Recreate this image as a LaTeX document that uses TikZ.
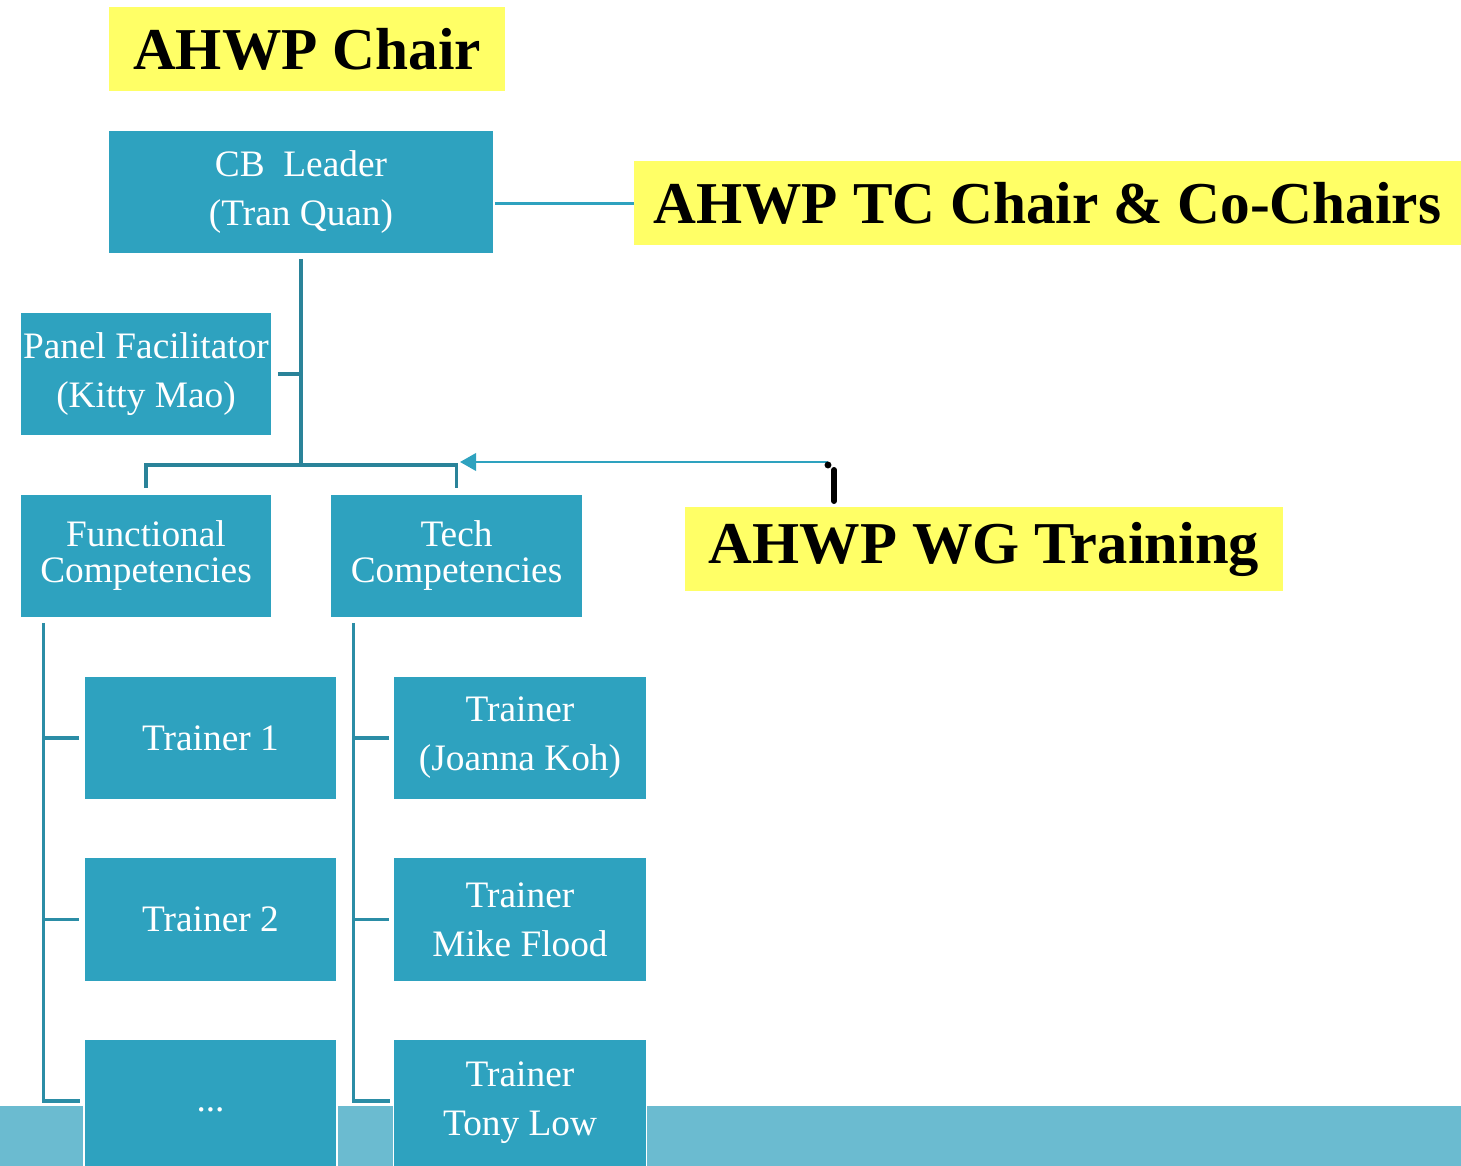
\documentclass[tikz,border=0pt]{standalone}
\usepackage{fontspec}
\setmainfont{Liberation Serif}
\usetikzlibrary{calc,arrows.meta}
\definecolor{boxc}{HTML}{2EA2BF}
\definecolor{darkln}{HTML}{2A8399}
\definecolor{spineln}{HTML}{2B8DA6}
\definecolor{bandc}{HTML}{6BBBD0}
\definecolor{hilite}{HTML}{FFFF66}
\begin{document}
\begin{tikzpicture}[x=0.75pt,y=-0.75pt,
  orgbox/.style={rectangle,fill=boxc,draw=white,line width=1.2pt,text=white,
    font=\fontsize{28}{36.75}\selectfont,align=center,inner sep=0pt,
    minimum width=189.75pt,minimum height=93pt},
  titlebox/.style={rectangle,fill=hilite,inner sep=0pt,
    font=\fontsize{44.5}{50}\selectfont\bfseries,minimum height=63pt},
  treeln/.style={draw=darkln,line width=2.5pt},
  spine/.style={draw=spineln,line width=2.5pt},
  lightln/.style={draw=boxc,line width=1.8pt}]
\useasboundingbox (0,0) rectangle (1461,1166);
% band at bottom
\fill[bandc] (0,1106) rectangle (1461,1166);
% title boxes
\node[titlebox,minimum width=297pt] (chair) at (307,49) {AHWP Chair};
\node[titlebox,minimum width=620.25pt] (tc) at (1047.5,203.5) {AHWP TC Chair \& Co-Chairs};
\node[titlebox,minimum width=448.5pt] (wg) at (984,549) {\scalebox{1.02}[1]{AHWP WG Training}};
% org boxes
\node[orgbox,minimum width=289.5pt] (cb) at (301,192) {CB\ \ Leader\\(Tran Quan)};
\node[orgbox,minimum width=189pt] (panel) at (146,374) {Panel Facilitator\\(Kitty Mao)};
\node[orgbox,minimum width=189pt,font=\fontsize{28}{27}\selectfont] (func) at (146,556) {Functional\\Competencies};
\node[orgbox,font=\fontsize{28}{27}\selectfont] (tech) at (456.5,556) {Tech\\Competencies};
\node[orgbox] (t1) at (210.5,738) {Trainer 1};
\node[orgbox] (t2) at (210.5,919.5) {Trainer 2};
\node[orgbox,minimum height=106.5pt] (t3) at (210.5,1110) {...};
\node[orgbox] (r1) at (520,738) {Trainer\\(Joanna Koh)};
\node[orgbox] (r2) at (520,919.5) {Trainer\\Mike Flood};
\node[orgbox,minimum height=96pt] (r3) at (520,1103) {Trainer\\Tony Low};
% connectors
\coordinate (hub) at (301,465);
\draw[lightln] (tc.west -| cb.east) -- (tc.west);
\draw[treeln] ($(cb.south)+(0,4)$) -- (hub);
\draw[treeln] ($(panel.east)+(5,0)$) -- (hub |- panel.east);
\draw[treeln] ($(func.north)+(0,-5)$) -- (func.north |- hub) -- (tech.north |- hub) -- ($(tech.north)+(0,-5)$);
% arrow from WG
\coordinate (astart) at (828,462);
\coordinate (atip) at (460,462);
\draw[lightln,line width=2pt,-{Triangle[length=12pt,width=13pt]}] (astart) -- (atip);
\fill[black] (828,465) circle (2.6pt);
\coordinate (mtop) at (834,470);
\coordinate (mbot) at (834,501);
\draw[black,line width=4.5pt,line cap=round] (mtop) -- (mbot);
% spines
\coordinate (fs) at ($(func.south west)+(24,4)$);
\coordinate (ts) at ($(tech.south west)+(24,4)$);
\coordinate (fe) at (80,1101);
\coordinate (te) at (390,1101);
\draw[spine] (fs) |- (fe);
\draw[spine] (fs |- t1.west) -- ($(t1.west)+(-4,0)$);
\draw[spine] (fs |- t2.west) -- ($(t2.west)+(-4,0)$);
\draw[spine] (ts) |- (te);
\draw[spine] (ts |- r1.west) -- ($(r1.west)+(-4,0)$);
\draw[spine] (ts |- r2.west) -- ($(r2.west)+(-4,0)$);
\end{tikzpicture}
\end{document}
